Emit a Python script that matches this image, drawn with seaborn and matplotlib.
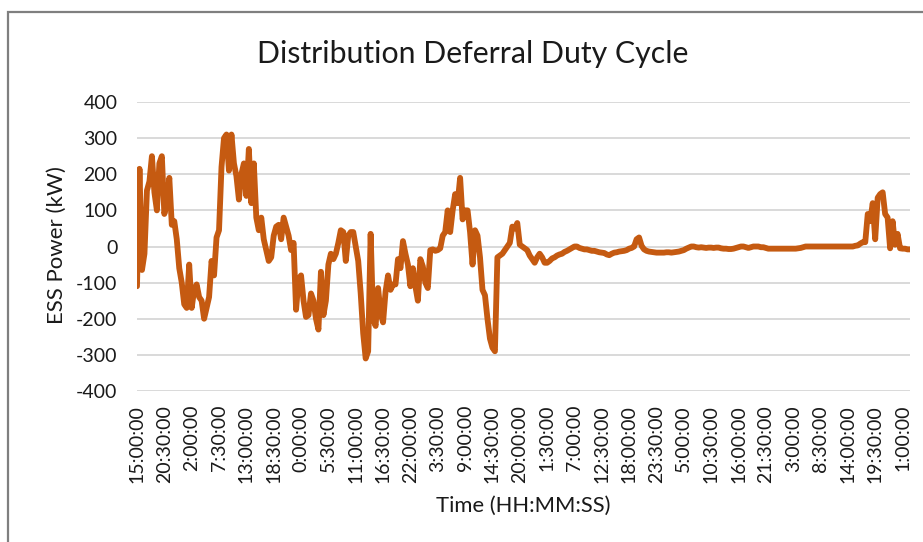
import numpy as np
import pandas as pd
import matplotlib
matplotlib.use("Agg")
import matplotlib.pyplot as plt
import seaborn as sns
from matplotlib.patches import Rectangle

# ESS power samples every 30 minutes, starting at 15:00:00
step_hours = 0.5
power_kw = [
    -110, 215, -65, -20, 155, 180, 250, 150, 100, 230, 250,
    90, 120, 190, 60, 70, 20, -60, -100, -160, -170, -50,
    -170, -120, -105, -140, -150, -200, -170, -140, -40, -80, 25,
    45, 220, 300, 310, 210, 310, 230, 195, 130, 200, 230,
    140, 270, 120, 230, 80, 45, 80, 20, -10, -40, -30,
    30, 55, 60, 20, 80, 55, 30, -10, 10, -175, -90,
    -80, -150, -195, -190, -130, -150, -200, -230, -70, -190, -150,
    -50, -20, -35, -20, 10, 45, 40, -40, 30, 40, 40,
    0, -40, -130, -240, -310, -290, 35, -200, -220, -115, -185,
    -210, -125, -80, -120, -105, -105, -35, -60, 15, -20, -50,
    -110, -60, -110, -150, -35, -55, -100, -115, -10, -8, -12,
    -10, -5, 30, 40, 100, 40, 100, 145, 120, 190, 75,
    100, 100, 40, -50, 45, 30, -30, -120, -135, -200, -255,
    -280, -290, -30, -25, -20, -10, 0, 10, 55, 50, 65,
    5, 0, -5, -10, -25, -35, -45, -30, -20, -30, -45,
    -45, -40, -33, -30, -25, -22, -20, -15, -12, -8, -4,
    0, 0, -4, -6, -8, -8, -10, -12, -12, -14, -16,
    -17, -18, -22, -24, -20, -17, -16, -14, -13, -12, -10,
    -6, -4, 0, 20, 25, 2, -8, -12, -14, -15, -16,
    -17, -17, -17, -17, -16, -16, -17, -16, -15, -14, -12,
    -10, -6, -3, 0, 0, -2, -3, -2, -3, -4, -3,
    -3, -4, -3, -3, -5, -6, -6, -7, -7, -6, -4,
    -2, 0, 0, -2, -4, -2, 0, 0, 0, -2, -2,
    -4, -6, -6, -6, -6, -6, -6, -6, -6, -6, -6,
    -6, -6, -5, -4, -2, 0, 0, 0, 0, 0, 0,
    0, 0, 0, 0, 0, 0, 0, 0, 0, 0, 0,
    0, 0, 0, 2, 3, 8, 12, 12, 90, 70, 120,
    20, 135, 145, 150, 90, 80, -5, 70, 5, 35, -5,
    -6, -6, -8, -8,
]

# Category labels, one every 11 samples (5.5 hours)
label_step_hours = 5.5
tick_labels = [
    "15:00:00", "20:30:00", "2:00:00", "7:30:00", "13:00:00", "18:30:00",
    "0:00:00", "5:30:00", "11:00:00", "16:30:00", "22:00:00", "3:30:00",
    "9:00:00", "14:30:00", "20:00:00", "1:30:00", "7:00:00", "12:30:00",
    "18:00:00", "23:30:00", "5:00:00", "10:30:00", "16:00:00", "21:30:00",
    "3:00:00", "8:30:00", "14:00:00", "19:30:00", "1:00:00",
]
y_ticks = [-400, -300, -200, -100, 0, 100, 200, 300, 400]

df = pd.DataFrame({
    "hours": np.arange(len(power_kw)) * step_hours,
    "power": power_kw,
})

sns.set_theme(style="white")
plt.rcParams["font.family"] = ["Lato", "DejaVu Sans"]
plt.rcParams["axes.unicode_minus"] = False
text_color = "#1a1a1a"

W, H = 923, 542
fig = plt.figure(figsize=(W / 100, H / 100), dpi=100)
fig.patch.set_facecolor("white")

# chart frame (top and left edges visible)
fig.patches.append(Rectangle((8 / W, -0.1), 1.2, 1.1 - 12 / H,
                             transform=fig.transFigure, fill=False,
                             edgecolor="#7f7f7f", linewidth=1.6))

left, right, top, bottom = 137, 910, 102, 391
ax = fig.add_axes([left / W, 1 - bottom / H, (right - left) / W, (bottom - top) / H])

sns.lineplot(data=df, x="hours", y="power", color="#C55A11", linewidth=4.2,
             ax=ax, solid_joinstyle="round", solid_capstyle="round")

ax.set_ylim(-400, 400)
ax.set_yticks(y_ticks)
ax.set_xlim(0, df["hours"].iloc[-1])
ax.set_xticks(np.arange(len(tick_labels)) * label_step_hours)
ax.set_xticklabels(tick_labels, rotation=90)
ax.grid(axis="y", color="#d9d9d9", linewidth=1.4)
ax.grid(axis="x", visible=False)
ax.set_axisbelow(True)
for s in ax.spines.values():
    s.set_visible(False)
ax.tick_params(axis="both", length=0, labelsize=14, colors=text_color)
ax.tick_params(axis="y", pad=14)
ax.tick_params(axis="x", pad=10)
ax.set_xlabel("")
ax.set_ylabel("")

fig.text(473 / W, 1 - 63 / H, "Distribution Deferral Duty Cycle",
         ha="center", va="baseline", fontsize=21.8, color=text_color)
fig.text(57 / W, 1 - 245 / H, "ESS Power (kW)", rotation=90,
         ha="center", va="center", fontsize=16, color=text_color)
fig.text(523 / W, 1 - 506 / H, "Time (HH:MM:SS)",
         ha="center", va="center", fontsize=15.8, color=text_color)

fig.savefig("out.png", dpi=100)
